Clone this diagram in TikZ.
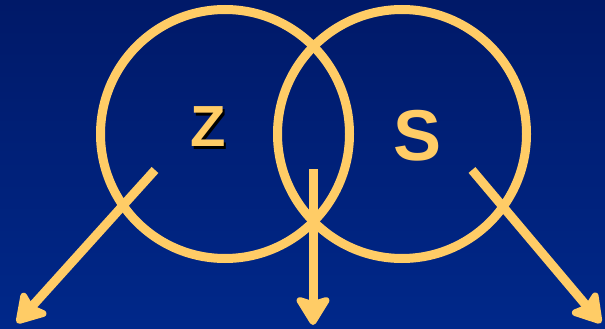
\documentclass[tikz,border=0pt]{standalone}
\usepackage{fontspec}
\setmainfont{Liberation Sans}
\usetikzlibrary{arrows.meta}

\definecolor{gold}{RGB}{255,204,102}
\definecolor{navytop}{RGB}{0,25,104}
\definecolor{navybot}{RGB}{0,40,138}

\newcommand{\shadowed}[1]{\makebox[0pt][l]{\kern2.5pt\raisebox{-2.5pt}{\color{black}#1}}#1}

\begin{document}
\begin{tikzpicture}[
    x=1pt, y=-1pt,
    ring/.style={draw=gold, line width=9pt, circle, minimum size=249pt, inner sep=0pt},
    letter/.style={text=gold, font=\bfseries},
    arrow/.style={draw=gold, line width=9pt, -{Stealth[length=33pt, width=40pt, inset=6pt, round]}}
]
    \useasboundingbox (0,0) rectangle (605,329);
    \shade[top color=navytop, bottom color=navybot] (0,0) rectangle (605,329);

    \node[ring] (zset) at (225,134) {};
    \node[ring] (sset) at (402,134) {};

    % letters
    \node[letter, font=\fontsize{58}{58}\selectfont\bfseries] (zlabel) at (208,128) {\shadowed{Z}};
    \node[letter, font=\fontsize{72}{72}\selectfont\bfseries] (slabel) at (418,136) {S};

    % arrow ends
    \coordinate (zstart) at (155,170);
    \coordinate (zend) at (17,323);
    \coordinate (mstart) at (313,169);
    \coordinate (mend) at (313,325);
    \coordinate (sstart) at (472,170);
    \coordinate (send) at (601,323);

    \draw[arrow] (zstart) -- (zend);
    \draw[arrow] (mstart) -- (mend);
    \draw[arrow] (sstart) -- (send);
\end{tikzpicture}
\end{document}
